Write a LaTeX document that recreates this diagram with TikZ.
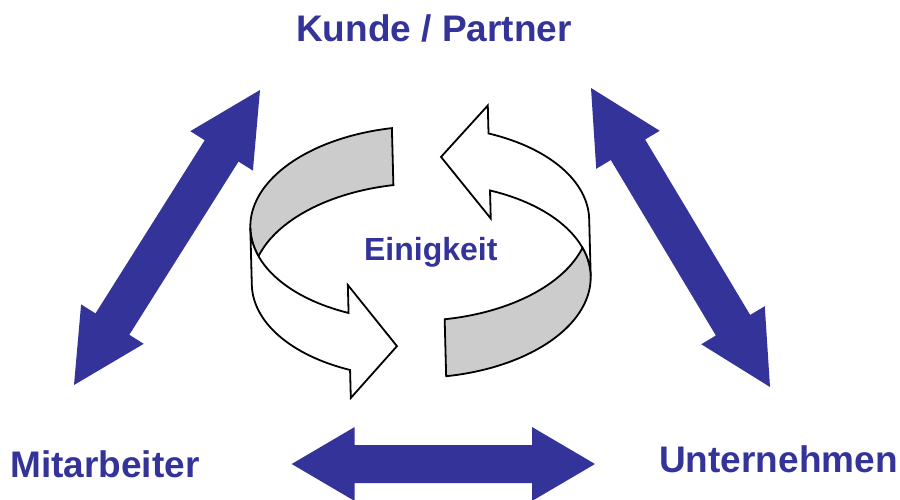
\documentclass[tikz,border=0pt]{standalone}
\usepackage{fontspec}
\setmainfont{Liberation Sans}
\usetikzlibrary{calc}
\definecolor{kpblue}{HTML}{333399}
\definecolor{bandgrey}{HTML}{CCCCCC}
\tikzset{%
   lbl/.style={font=\bfseries\fontsize{37}{44}\selectfont, text=kpblue, inner sep=0pt, anchor=base},
   midlbl/.style={lbl, font=\bfseries\fontsize{32}{38}\selectfont},
   band/.style={draw=black, line width=1.8pt, fill=white},
   inside/.style={band, fill=bandgrey},
   ring/.style={x radius=169.5, y radius=97.2},
}
% block arrow with two heads: head length, half shaft width, tip, tip
\newcommand{\twoway}[4]{%
   \coordinate (#3-h) at ($(#3)!#1pt!(#4)$);
   \coordinate (#4-h) at ($(#4)!#1pt!(#3)$);
   \fill[kpblue] (#3)
      -- ($(#3-h)!37pt!90:(#3)$) -- ($(#3-h)!#2pt!90:(#3)$)
      -- ($(#4-h)!#2pt!-90:(#4)$) -- ($(#4-h)!37pt!-90:(#4)$)
      -- (#4)
      -- ($(#4-h)!37pt!90:(#4)$) -- ($(#4-h)!#2pt!90:(#4)$)
      -- ($(#3-h)!#2pt!-90:(#3)$) -- ($(#3-h)!37pt!-90:(#3)$)
      -- cycle;}

\begin{document}
\begin{tikzpicture}[x=1pt, y=-1pt]
      \useasboundingbox (0,0) rectangle (900,500);
      \clip (0,0) rectangle (900,500);
      % tips of the block arrows
      \coordinate (ma) at (74,385);
      \coordinate (ka) at (260,90);
      \coordinate (kb) at (591,88);
      \coordinate (un) at (770,387);
      \coordinate (ml) at (291.7,464);
      \coordinate (ur) at (595,464);
      \twoway{72}{20}{ma}{ka}
      \twoway{72}{20}{kb}{un}
      \twoway{63}{19}{ml}{ur}
      % labels
      \node[lbl] (kunde) at (434,42) {Kunde / Partner};
      \node[lbl] (mitarb) at (105,477) {Mitarbeiter};
      \node[lbl] (untern) at (778.5,472) {Unternehmen};
      % the two arrows round the ring
      \begin{scope}[rotate around={1.5:(420.5,252)}]
         \draw[inside] (395.15,127.4) arc[ring, start angle=261.4, end angle=162.95]
            arc[ring, start angle=197.05, end angle=261.4] -- cycle;
         \draw[band] (251,223.5) arc[ring, start angle=180, end angle=115.7]
            -- (347,283.1) -- (394.5,345.5) -- (347,396.1) -- (347,368.1)
            arc[ring, start angle=115.7, end angle=180] -- cycle;
         \draw[band] (590,223.5) arc[ring, start angle=360, end angle=294.8]
            -- (491.6,107.3) -- (443.5,157.5) -- (491.6,220.3) -- (491.6,192.3)
            arc[ring, start angle=294.8, end angle=360] -- cycle;
         \draw[inside] (442.9,376.85) arc[ring, start angle=82.4, end angle=-17.05]
            arc[ring, start angle=17.05, end angle=82.4] -- cycle;
      \end{scope}
      \node[midlbl] (einig) at (430.8,260.5) {Einigkeit};
\end{tikzpicture}
\end{document}
